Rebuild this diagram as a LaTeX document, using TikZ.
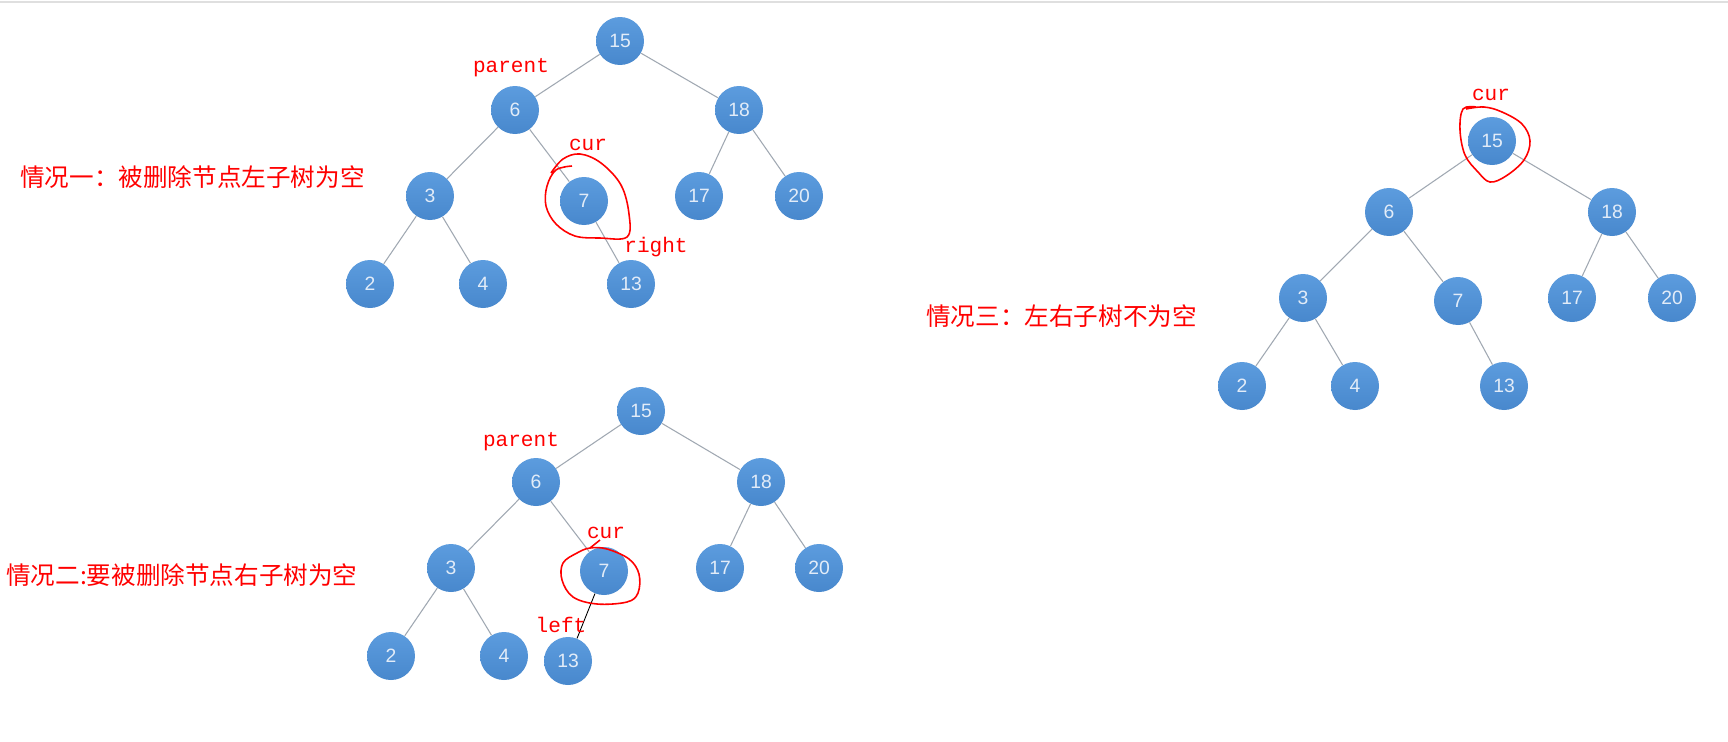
\documentclass[tikz,border=0pt]{standalone}
\usepackage{fontspec}
\setmainfont{Liberation Sans}
\setmonofont{Liberation Mono}
\newfontfamily\cjk{Noto Sans CJK SC}
\usepackage{tikz}
\usetikzlibrary{positioning}
\definecolor{nodeblue}{RGB}{72,136,205}
\definecolor{nodetop}{RGB}{92,156,222}
\definecolor{edgegray}{RGB}{160,168,178}
\definecolor{numwhite}{RGB}{226,236,248}

\begin{document}
\begin{tikzpicture}[x=0.02cm, y=-0.02cm]
			\tikzstyle{Vertex} 	= [circle, top color=nodetop, bottom color=nodeblue, text=numwhite, minimum size=0.96cm, inner sep=0pt, font=\fontsize{11}{13}\selectfont]
			\tikzstyle{Edge}	= [edgegray, line width=0.6pt]
			\tikzstyle{Mark}	= [red, font=\ttfamily\fontsize{12}{14}\selectfont, inner sep=0pt]
			\tikzstyle{Title}	= [red, anchor=west, inner sep=0pt, font=\cjk\fontsize{14}{16}\selectfont]
			\tikzstyle{Loop}	= [red, line width=0.9pt]

			\useasboundingbox (0,0) rectangle (1728,741);
			\fill [white] (0,0) rectangle (1728,741);
			\draw [gray!25, line width=1.2pt] (0,2) -- (1728,2);

			% case one
			\node (a15) at (620, 41) [Vertex] {15};
			\node (a6) at (515, 110) [Vertex] {6};
			\node (a18) at (739, 110) [Vertex] {18};
			\node (a3) at (430, 196) [Vertex] {3};
			\node (a7) at (584, 201) [Vertex] {7};
			\node (a17) at (699, 196) [Vertex] {17};
			\node (a20) at (799, 196) [Vertex] {20};
			\node (a2) at (370, 284) [Vertex] {2};
			\node (a4) at (483, 284) [Vertex] {4};
			\node (a13) at (631, 284) [Vertex] {13};

			\draw [-] (a15) to (a6) [Edge];
			\draw [-] (a15) to (a18) [Edge];
			\draw [-] (a6) to (a3) [Edge];
			\draw [-] (a6) to (a7) [Edge];
			\draw [-] (a18) to (a17) [Edge];
			\draw [-] (a18) to (a20) [Edge];
			\draw [-] (a3) to (a2) [Edge];
			\draw [-] (a3) to (a4) [Edge];
			\draw [-] (a7) to (a13) [Edge];

			\node (aparent) at (511, 68) [Mark] {parent};
			\node (acur) at (588, 145) [Mark] {cur};
			\node (aright) at (656, 247) [Mark] {right};
			\node (atitle) at (20, 177) [Title] {情况一：被删除节点左子树为空};
			\draw [Loop] plot [smooth, tension=0.6] coordinates {(572,166) (556,170) (547,186) (546,206) (556,224) (575,236) (600,238) (627,237) (629,214) (621,185) (601,163) (580,154) (563,159) (551,173)};

			% case two
			\node (b15) at (641, 411) [Vertex] {15};
			\node (b6) at (536, 482) [Vertex] {6};
			\node (b18) at (761, 482) [Vertex] {18};
			\node (b3) at (451, 568) [Vertex] {3};
			\node (b7) at (604, 571) [Vertex] {7};
			\node (b17) at (720, 568) [Vertex] {17};
			\node (b20) at (819, 568) [Vertex] {20};
			\node (b2) at (391, 656) [Vertex] {2};
			\node (b4) at (504, 656) [Vertex] {4};
			\node (b13) at (568, 661) [Vertex] {13};

			\draw [-] (b15) to (b6) [Edge];
			\draw [-] (b15) to (b18) [Edge];
			\draw [-] (b6) to (b3) [Edge];
			\draw [-] (b6) to (b7) [Edge];
			\draw [-] (b18) to (b17) [Edge];
			\draw [-] (b18) to (b20) [Edge];
			\draw [-] (b3) to (b2) [Edge];
			\draw [-] (b3) to (b4) [Edge];
			\draw [-] (b7) to (b13) [black, line width=0.5pt];

			\node (bparent) at (521, 442) [Mark] {parent};
			\node (bcur) at (606, 533) [Mark] {cur};
			\node (bleft) at (561, 625) [Mark] {left};
			\node (btitle) at (6, 575) [Title] {情况二:要被删除节点右子树为空};
			\draw [Loop] (600,540) -- (590,548);
			\draw [Loop] plot [smooth cycle, tension=0.6] coordinates {(590,548) (607,549) (629,559) (639,574) (638,593) (627,602) (597,604) (573,597) (562,580) (563,563) (577,553)};

			% case three
			\node (c15) at (1492, 141) [Vertex] {15};
			\node (c6) at (1389, 212) [Vertex] {6};
			\node (c18) at (1612, 212) [Vertex] {18};
			\node (c3) at (1303, 298) [Vertex] {3};
			\node (c7) at (1458, 301) [Vertex] {7};
			\node (c17) at (1572, 298) [Vertex] {17};
			\node (c20) at (1672, 298) [Vertex] {20};
			\node (c2) at (1242, 386) [Vertex] {2};
			\node (c4) at (1355, 386) [Vertex] {4};
			\node (c13) at (1504, 386) [Vertex] {13};

			\draw [-] (c15) to (c6) [Edge];
			\draw [-] (c15) to (c18) [Edge];
			\draw [-] (c6) to (c3) [Edge];
			\draw [-] (c6) to (c7) [Edge];
			\draw [-] (c18) to (c17) [Edge];
			\draw [-] (c18) to (c20) [Edge];
			\draw [-] (c3) to (c2) [Edge];
			\draw [-] (c3) to (c4) [Edge];
			\draw [-] (c7) to (c13) [Edge];

			\node (ccur) at (1491, 95) [Mark] {cur};
			\node (ctitle) at (926, 316) [Title] {情况三：左右子树不为空};
			\draw [Loop] plot [smooth, tension=0.6] coordinates {(1476,107) (1463,109) (1460,130) (1465,155) (1478,172) (1490,182) (1506,176) (1524,160) (1530,141) (1522,124) (1502,112) (1484,107) (1466,109)};
		\end{tikzpicture}
\end{document}
